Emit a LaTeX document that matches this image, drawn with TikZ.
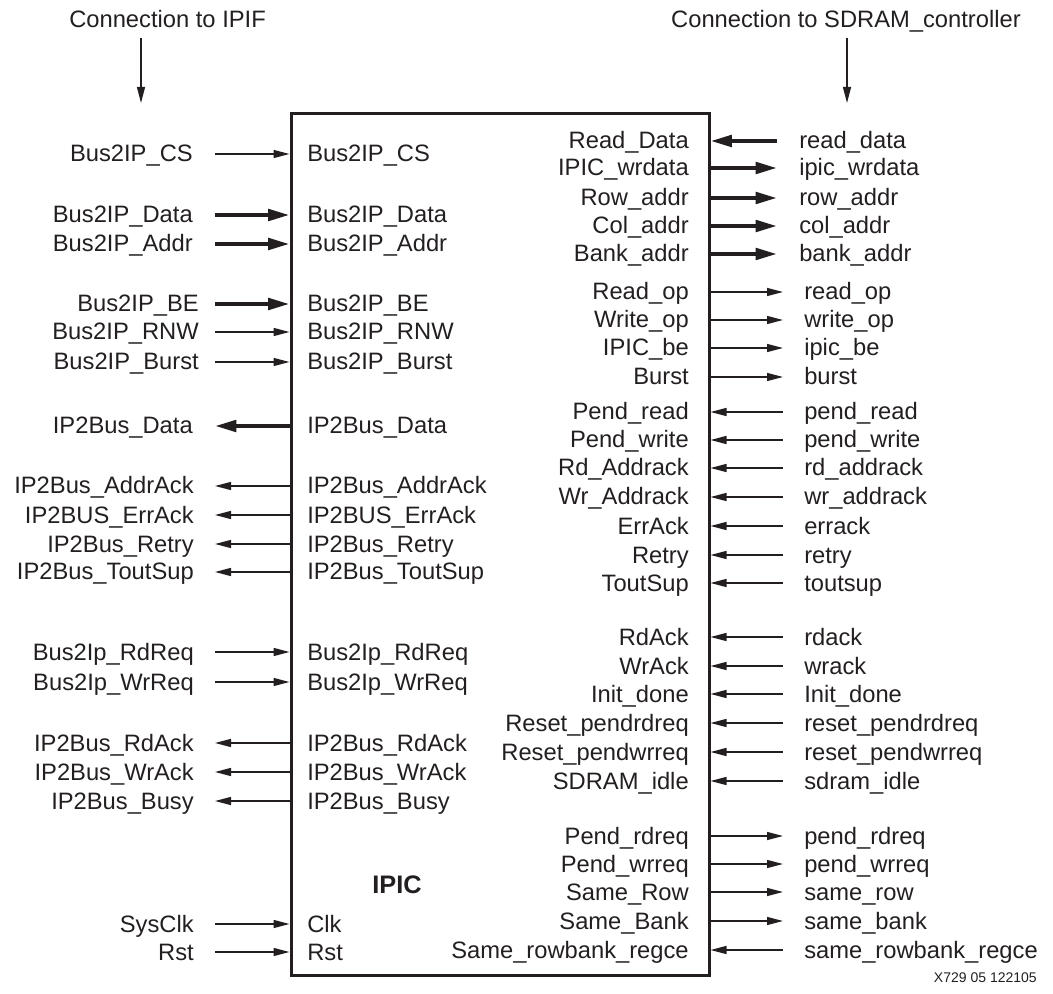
\documentclass[tikz,border=0pt]{standalone}
\usepackage{fontspec}
\setmainfont{Liberation Sans}
\usetikzlibrary{arrows.meta}

\definecolor{ink}{RGB}{35,31,32}

% Left-hand port: id, row y, outer label, inner label, wire style, outer label right end
\newcommand\LeftPort[6]{%
  \node[sig, anchor=base east] (lo#1) at (#6,#2+8) {#3};
  \node[sig, anchor=base west] (li#1) at (307,#2+8) {#4};
  \coordinate (lw#1) at (215,#2);
  \draw[#5] (lw#1) -- (ipic.west |- lw#1);
}
% Right-hand port: id, row y, inner label, outer label, wire style, wire end x, outer label x
\newcommand\RightPort[7]{%
  \node[sig, anchor=base east] (ri#1) at (689,#2+8) {#3};
  \node[sig, anchor=base west] (ro#1) at (#7,#2+8) {#4};
  \coordinate (rw#1) at (#6,#2);
  \draw[#5] (ipic.east |- rw#1) -- (rw#1);
}

\begin{document}
\begin{tikzpicture}[x=0.75pt, y=-0.75pt,
  sig/.style={inner sep=0pt, text=ink, font=\fontsize{17.8}{20}\selectfont},
  wire/.style={draw=ink, line width=1pt},
  bus/.style={draw=ink, line width=3pt},
  fwd/.style={wire, -{Triangle[length=12pt, width=6pt]}},
  bwd/.style={wire, {Triangle[length=12pt, width=6pt]}-},
  fwdbus/.style={bus, -{Triangle[length=16pt, width=8.5pt]}},
  bwdbus/.style={bus, {Triangle[length=16pt, width=8.5pt]}-},
  block/.style={draw=ink, line width=2.25pt, inner sep=0pt,
    minimum width=313.5pt, minimum height=645.75pt}]

\useasboundingbox (0,0) rectangle (1053,994);

% the IPIC block
\node[block] (ipic) at (500,544.5) {};
\node[sig, anchor=center, font=\fontsize{19}{22}\selectfont\bfseries] (title) at (397,885) {IPIC};

% headings over both sides
\node[sig, anchor=base west] (hipif) at (69,28) {Connection to IPIF};
\coordinate (hipifT) at (141,38);
\coordinate (hipifB) at (141,103);
\draw[fwd] (hipifT) -- (hipifB);

\node[sig, anchor=base east] (hsdram) at (1021,28) {Connection to SDRAM\_controller};
\coordinate (hsdramT) at (847,38);
\coordinate (hsdramB) at (847,103);
\draw[fwd] (hsdramT) -- (hsdramB);

% IPIF side
\LeftPort{CS}{154}{Bus2IP\_CS}{Bus2IP\_CS}{fwd}{193}
\LeftPort{Data}{215}{Bus2IP\_Data}{Bus2IP\_Data}{fwdbus}{193}
\LeftPort{Addr}{244}{Bus2IP\_Addr}{Bus2IP\_Addr}{fwdbus}{193}
\LeftPort{BE}{304}{Bus2IP\_BE}{Bus2IP\_BE}{fwdbus}{199}
\LeftPort{RNW}{332}{Bus2IP\_RNW}{Bus2IP\_RNW}{fwd}{199}
\LeftPort{Burst}{362}{Bus2IP\_Burst}{Bus2IP\_Burst}{fwd}{199}
\LeftPort{IPData}{426}{IP2Bus\_Data}{IP2Bus\_Data}{bwdbus}{193}
\LeftPort{AddrAck}{486}{IP2Bus\_AddrAck}{IP2Bus\_AddrAck}{bwd}{194}
\LeftPort{ErrAck}{515}{IP2BUS\_ErrAck}{IP2BUS\_ErrAck}{bwd}{194}
\LeftPort{Retry}{544}{IP2Bus\_Retry}{IP2Bus\_Retry}{bwd}{194}
\LeftPort{ToutSup}{572}{IP2Bus\_ToutSup}{IP2Bus\_ToutSup}{bwd}{194}
\LeftPort{RdReq}{652}{Bus2Ip\_RdReq}{Bus2Ip\_RdReq}{fwd}{194}
\LeftPort{WrReq}{682}{Bus2Ip\_WrReq}{Bus2Ip\_WrReq}{fwd}{194}
\LeftPort{RdAck}{743}{IP2Bus\_RdAck}{IP2Bus\_RdAck}{bwd}{194}
\LeftPort{WrAck}{772}{IP2Bus\_WrAck}{IP2Bus\_WrAck}{bwd}{194}
\LeftPort{Busy}{801}{IP2Bus\_Busy}{IP2Bus\_Busy}{bwd}{194}
\LeftPort{Clk}{924}{SysClk}{Clk}{fwd}{194}
\LeftPort{Rst}{952}{Rst}{Rst}{fwd}{194}

% SDRAM controller side
\RightPort{ReadData}{141}{Read\_Data}{read\_data}{bwdbus}{777}{799}
\RightPort{WrData}{168}{IPIC\_wrdata}{ipic\_wrdata}{fwdbus}{777}{799}
\RightPort{Row}{198}{Row\_addr}{row\_addr}{fwdbus}{777}{799}
\RightPort{Col}{226}{Col\_addr}{col\_addr}{fwdbus}{777}{799}
\RightPort{Bank}{254}{Bank\_addr}{bank\_addr}{fwdbus}{777}{799}
\RightPort{ReadOp}{292}{Read\_op}{read\_op}{fwd}{783}{804}
\RightPort{WriteOp}{320}{Write\_op}{write\_op}{fwd}{783}{804}
\RightPort{Be}{348}{IPIC\_be}{ipic\_be}{fwd}{783}{804}
\RightPort{BurstR}{377}{Burst}{burst}{fwd}{783}{804}
\RightPort{PendRead}{412}{Pend\_read}{pend\_read}{bwd}{783}{804}
\RightPort{PendWrite}{440}{Pend\_write}{pend\_write}{bwd}{783}{804}
\RightPort{RdAddrack}{468}{Rd\_Addrack}{rd\_addrack}{bwd}{783}{804}
\RightPort{WrAddrack}{497}{Wr\_Addrack}{wr\_addrack}{bwd}{783}{804}
\RightPort{ErrAckR}{526}{ErrAck}{errack}{bwd}{783}{804}
\RightPort{RetryR}{555}{Retry}{retry}{bwd}{783}{804}
\RightPort{ToutSupR}{583}{ToutSup}{toutsup}{bwd}{783}{804}
\RightPort{RdAckR}{637}{RdAck}{rdack}{bwd}{783}{804}
\RightPort{WrAckR}{666}{WrAck}{wrack}{bwd}{783}{804}
\RightPort{Init}{694}{Init\_done}{Init\_done}{bwd}{783}{804}
\RightPort{RstRd}{723}{Reset\_pendrdreq}{reset\_pendrdreq}{bwd}{783}{804}
\RightPort{RstWr}{752}{Reset\_pendwrreq}{reset\_pendwrreq}{bwd}{783}{804}
\RightPort{Idle}{781}{SDRAM\_idle}{sdram\_idle}{bwd}{783}{804}
\RightPort{PendRd}{836}{Pend\_rdreq}{pend\_rdreq}{fwd}{783}{804}
\RightPort{PendWr}{864}{Pend\_wrreq}{pend\_wrreq}{fwd}{783}{804}
\RightPort{SameRow}{892}{Same\_Row}{same\_row}{fwd}{783}{804}
\RightPort{SameBank}{921}{Same\_Bank}{same\_bank}{fwd}{783}{804}
\RightPort{Regce}{950}{Same\_rowbank\_regce}{same\_rowbank\_regce}{bwd}{783}{804}

% figure number
\node[sig, anchor=base east, font=\fontsize{10.5}{12}\selectfont] (fignum) at (1037,982) {X729 05 122105};

\end{tikzpicture}
\end{document}
